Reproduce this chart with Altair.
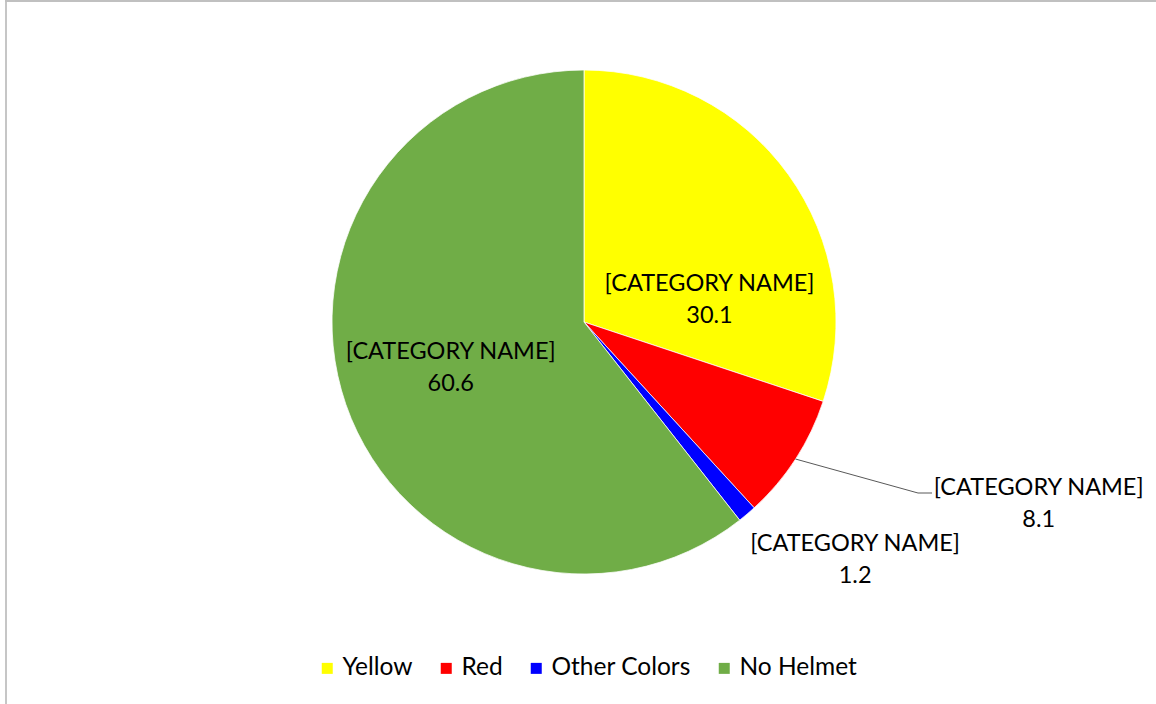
import altair as alt
import pandas as pd

categories = ["Yellow", "Red", "Other Colors", "No Helmet"]
values = [30.1, 8.1, 1.2, 60.6]
colors = ["#FFFF00", "#FF0000", "#0000FF", "#70AD47"]
label_name = "[CATEGORY NAME]"

df = pd.DataFrame({
    "category": categories,
    "value": values,
    "order": list(range(len(categories))),
})

W, H = 1156, 704
CX, CY, R = 584, 322, 252
FONT = "Lato"
LABEL_SIZE = 23.5

base = alt.Chart(df).encode(
    theta=alt.Theta("value:Q", stack=True),
    order=alt.Order("order:Q"),
    x=alt.value(CX),
    y=alt.value(CY),
)

pie = base.mark_arc(outerRadius=R, stroke="white", strokeWidth=0.75).encode(
    color=alt.Color(
        "category:N",
        scale=alt.Scale(domain=categories, range=colors),
        sort=categories,
        legend=alt.Legend(
            orient="none",
            legendX=315,
            legendY=656,
            direction="horizontal",
            title=None,
            symbolType="square",
            symbolSize=121,
            symbolStrokeWidth=0,
            symbolOpacity=1,
            labelFont=FONT,
            labelFontSize=24.5,
            labelColor="black",
            labelOffset=3,
            columnPadding=21,
            padding=0,
        ),
    )
)

labels = base.transform_calculate(
    lbl=f"'{label_name}\\n' + format(datum.value, '.1f')"
)

def lab(cat, radius, dx, dy):
    return labels.mark_text(
        radius=radius, dx=dx, dy=dy, font=FONT, fontSize=LABEL_SIZE,
        lineBreak="\n", lineHeight=32, align="center", baseline="middle",
        color="black",
    ).encode(
        text=alt.condition(alt.datum.category == cat, "lbl:N", alt.value(""))
    )

lab_yellow = lab("Yellow", 140, 12, 44)
lab_green = lab("No Helmet", 141, 0, -16)
lab_red = lab("Red", 400, 119, -52)
lab_blue = lab("Other Colors", 300, 77, -7)

leader = alt.Chart(df).transform_joinaggregate(
    total="sum(value)"
).transform_window(
    cum="sum(value)", sort=[alt.SortField("order")], frame=[None, 0]
).transform_filter(
    alt.datum.category == "Red"
).transform_calculate(
    mid="(datum.cum - datum.value / 2) / datum.total * 2 * PI",
    ex=f"{CX} + {R} * sin(datum.mid)",
    ey=f"{CY} - {R} * cos(datum.mid)",
    pts="[0, 1, 2]",
).transform_flatten(["pts"]).transform_calculate(
    px="datum.pts == 0 ? datum.ex : (datum.pts == 1 ? 918 : 932)",
    py="datum.pts == 0 ? datum.ey : 493",
).mark_line(color="#595959", strokeWidth=1).encode(
    x=alt.X("px:Q", scale=None),
    y=alt.Y("py:Q", scale=None),
    order="pts:Q",
)

frame_df = pd.DataFrame({"k": [0]})
border_left = alt.Chart(frame_df).mark_rule(color="#c6c6c6", strokeWidth=2).encode(
    x=alt.value(6), y=alt.value(0), y2=alt.value(H)
)
border_top = alt.Chart(frame_df).mark_rule(color="#c0c0c0", strokeWidth=2).encode(
    x=alt.value(5), x2=alt.value(W), y=alt.value(1)
)

chart = alt.layer(
    pie, leader, lab_yellow, lab_green, lab_red, lab_blue, border_left, border_top
).properties(
    width=W, height=H, autosize=alt.AutoSizeParams(type="none"), padding=0,
    background="white",
).configure_view(stroke=None)

chart.save("out.html", embed_options={"renderer": "svg", "actions": False})
